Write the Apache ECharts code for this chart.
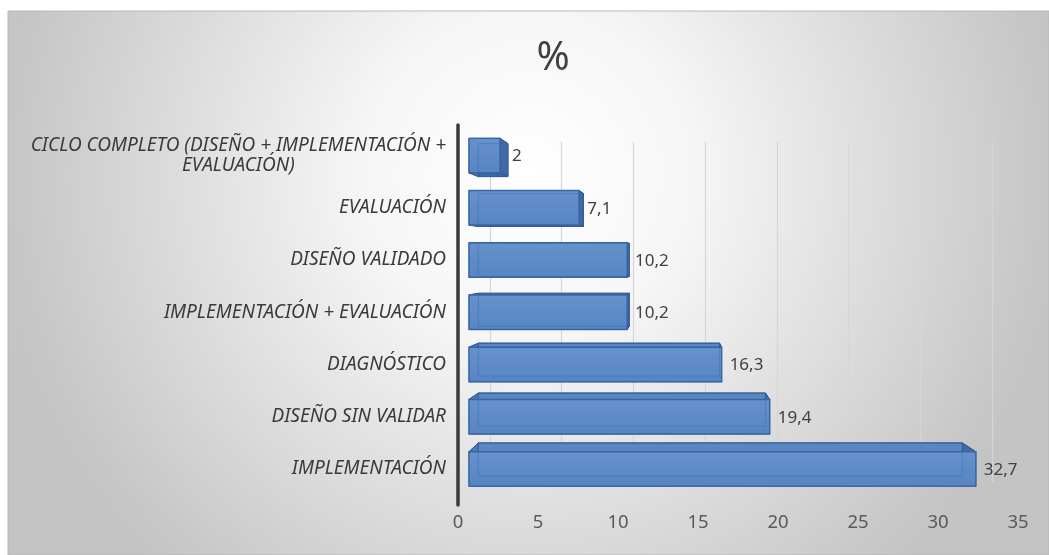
<!DOCTYPE html>
<html><head><meta charset="utf-8">
<script src="https://cdn.jsdelivr.net/npm/echarts@6/dist/echarts.min.js"></script>
<style>html,body{margin:0;padding:0;background:#fff;}#c{width:1049px;height:555px;}</style>
</head><body><div id="c"></div>
<script>
const categories = ['IMPLEMENTACIÓN','DISEÑO SIN VALIDAR','DIAGNÓSTICO','IMPLEMENTACIÓN + EVALUACIÓN','DISEÑO VALIDADO','EVALUACIÓN','CICLO COMPLETO (DISEÑO + IMPLEMENTACIÓN +\nEVALUACIÓN)'];
const values = [32.7, 19.4, 16.3, 10.2, 10.2, 7.1, 2];
const xTicks = [0, 5, 10, 15, 20, 25, 30, 35];
const titleText = '%';

const FONT = "'Noto Sans',sans-serif";
const chart = echarts.init(document.getElementById('c'));

function renderBar(params, api) {
  const cs = params.coordSys;
  const i = api.value(1), v = api.value(0);
  const p0 = api.coord([0, i]), p1 = api.coord([v, i]);
  const band = api.size([0, 1])[1];
  const h = band * 0.66;
  const x0 = p0[0], x1 = p1[0], yt = p0[1] - h / 2, yb = p0[1] + h / 2;
  const Vx = cs.x + 0.38 * cs.width, Vy = cs.y + 0.35 * cs.height, k = 0.955;
  const bx = x => Vx + (x - Vx) * k, by = y => Vy + (y - Vy) * k;
  const B = [[bx(x0), by(yt)], [bx(x1), by(yt)], [bx(x1), by(yb)], [bx(x0), by(yb)]];
  const F = [[x0, yt], [x1, yt], [x1, yb], [x0, yb]];
  const side = (a, b, fill) => ({type: 'polygon', shape: {points: [F[a], F[b], B[b], B[a]]},
    style: {fill: fill, stroke: '#2f5b95', lineWidth: 1}});
  const children = [
    {type: 'polygon', shape: {points: B}, style: {fill: '#4a78b6', stroke: '#2f5b95', lineWidth: 1}},
    side(0, 1, '#5a86c2'), side(1, 2, '#3f6aa5'), side(2, 3, '#3d67a0'), side(3, 0, '#4a78b6'),
    {type: 'rect', shape: {x: x0, y: yt, width: x1 - x0, height: h},
      style: {fill: {type: 'linear', x: 0, y: 0, x2: 0, y2: 1, colorStops: [{offset: 0, color: 'rgba(104,148,206,0.93)'}, {offset: 1, color: 'rgba(88,134,197,0.93)'}]},
        stroke: '#3866a3', lineWidth: 1.3}},
    {type: 'polygon', shape: {points: B}, style: {fill: 'none', stroke: 'rgba(60,100,160,0.35)', lineWidth: 1}},
  ];
  const right = Math.max(x1 + 8, bx(x1) + 4);
  children.push({type: 'text', style: {x: right, y: p0[1] + 1, text: String(v).replace('.', ','),
    fill: '#404040', font: '17px ' + FONT, textAlign: 'left', textVerticalAlign: 'middle'}});
  return {type: 'group', children: children};
}

chart.setOption({
  animation: false,
  graphic: [{type: 'rect', z: -10, shape: {x: 8, y: 11, width: 1041, height: 544},
    style: {fill: {type: 'radial', x: 0.5, y: 0.3, r: 1.0, colorStops: [{offset: 0, color: '#ffffff'}, {offset: 0.3, color: '#f6f6f6'}, {offset: 0.95, color: '#c6c6c6'}, {offset: 1, color: '#c4c4c4'}]},
      stroke: '#b8b8b8', lineWidth: 1}}],
  title: {text: titleText, left: 548, top: 34, textAlign: 'center',
    textStyle: {fontFamily: FONT, fontSize: 40, fontWeight: 'normal', color: '#404040'}},
  grid: [
    {left: 469, right: 37.5, top: 129.4, bottom: 59.9},
    {left: 458, right: 31, top: 125, bottom: 50},
    {left: 490, right: 57, top: 142, bottom: 73}
  ],
  xAxis: [
    {gridIndex: 0, type: 'value', min: 0, max: 35, show: false},
    {gridIndex: 1, type: 'value', min: 0, max: 35, interval: 5, axisLine: {show: false}, axisTick: {show: false}, splitLine: {show: false},
      axisLabel: {margin: 8, color: '#595959', fontFamily: FONT, fontSize: 18.5, formatter: v => xTicks.includes(v) ? String(v) : ''}},
    {gridIndex: 2, type: 'value', min: 0, max: 35, interval: 5, axisLine: {show: false}, axisTick: {show: false}, axisLabel: {show: false},
      splitLine: {show: true, lineStyle: {color: '#d6d6d6', width: 1.2}}}
  ],
  yAxis: [
    {gridIndex: 0, type: 'category', data: categories, axisLine: {show: false}, axisTick: {show: false},
      axisLabel: {margin: 23, color: '#3a3a3a', fontFamily: FONT, fontSize: 19, fontStyle: 'italic', lineHeight: 20,
        formatter: v => v.indexOf('\n') >= 0 ? '{c|' + v + '}' : v,
        rich: {c: {align: 'center', color: '#3a3a3a', fontFamily: FONT, fontSize: 19, fontStyle: 'italic', lineHeight: 20}}}},
    {gridIndex: 1, type: 'value', min: 0, max: 1, axisLine: {show: true, lineStyle: {color: '#3a3a3a', width: 3.5}}, axisTick: {show: false}, axisLabel: {show: false}, splitLine: {show: false}},
    {gridIndex: 2, type: 'value', min: 0, max: 1, show: false, splitLine: {show: false}}
  ],
  series: [
    {type: 'custom', xAxisIndex: 0, yAxisIndex: 0, z: 5, renderItem: renderBar,
      data: values.map((v, i) => [v, i]), encode: {x: 0, y: 1}}
  ]
});

function addDecor() {
  const fy = chart.convertToPixel({yAxisIndex: 1}, 0);
  const ty = chart.convertToPixel({yAxisIndex: 1}, 1);
  const by = chart.convertToPixel({yAxisIndex: 2}, 0);
  const bty = chart.convertToPixel({yAxisIndex: 2}, 1);
  const fx = v => chart.convertToPixel({xAxisIndex: 1}, v);
  const bx = v => chart.convertToPixel({xAxisIndex: 2}, v);
  const g = [chart.getOption().graphic[0]];
  g[0].id = 'bg';
  g.push({type: 'polygon', id: 'wall', z: -5, shape: {points: [[fx(0), ty], [bx(0), bty], [bx(0), by], [fx(0), fy]]},
    style: {fill: {type: 'linear', x: 0, y: 0, x2: 1, y2: 0, colorStops: [{offset: 0, color: '#9c9c9c'}, {offset: 1, color: '#b9b9b9'}]}}});
  xTicks.slice(1).forEach((v, i) => g.push({type: 'line', id: 'fl' + i, z: -5,
    shape: {x1: bx(v), y1: by, x2: fx(v), y2: fy}, style: {stroke: '#d9d9d9', lineWidth: 1.2}}));
  chart.setOption({graphic: g}, {replaceMerge: ['graphic']});
}
addDecor();
</script></body></html>
